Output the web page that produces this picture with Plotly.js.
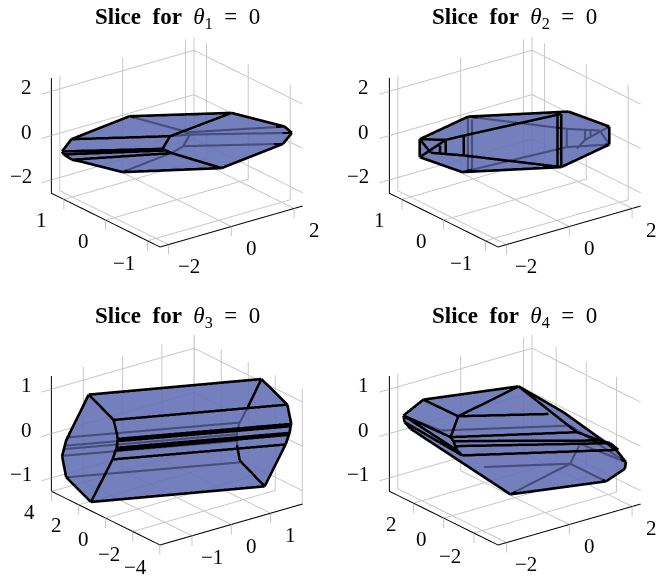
<!DOCTYPE html>
<html>
<head>
<meta charset="utf-8">
<script src="https://cdn.plot.ly/plotly-3.0.1.min.js"></script>
<style>body{margin:0;background:#fff}</style>
</head>
<body>
<div id="plot" style="width:657px;height:577px"></div>
<script>
// Slice for theta_1 = 0
let p1X = [-2.650,-2.634,-2.498,-2.392,-1.090,0.981,1.971,2.082,1.838,0.462,-1.553,-2.340,-0.389,-0.616,-0.454,-0.573,0.443,0.587,0.386,0.601,0.150,0.177,0.112];
let p1Y = [0.756,0.728,0.632,0.727,0.316,-0.565,-1.091,-1.182,-1.152,-0.717,0.134,0.552,-0.127,-0.115,-0.214,-0.145,0.222,0.131,0.140,0.142,0.201,0.299,0.212];
let p1Z = [-0.052,-0.168,-0.373,0.423,1.309,1.438,0.911,0.667,0.243,-0.694,-0.848,-0.437,0.539,0.051,-0.116,-0.013,0.129,-0.025,-0.475,0.065,-0.706,-0.089,-0.744];
let p1Front = [[0,1],[1,2],[2,11],[11,10],[10,9],[9,8],[8,7],[7,6],[6,5],[5,4],[4,3],[3,0],[3,12],[12,5],[12,13],[13,14],[14,9],[0,13],[1,15],[2,14]];
let p1Back = [[4,16],[16,19],[19,6],[17,7],[21,17],[17,18],[18,22],[18,8],[10,20],[16,17]];

// Slice for theta_2 = 0
let p2X = [-2.185,-1.078,0.969,1.704,1.601,0.501,-1.520,-2.288,-2.042,0.808,0.725,0.433,-1.275,-1.390,-1.668,-1.748,-1.813,-1.857,-0.527,-0.830,-0.447,-0.734,1.402,1.296,1.763,1.705,1.869,1.835,2.060,1.487];
let p2Y = [0.636,0.308,-0.551,-0.974,-1.052,-0.727,0.120,0.558,0.481,-0.496,-0.471,-0.691,0.264,0.178,0.406,0.346,0.431,0.398,0.732,0.504,0.688,0.473,-0.185,-0.264,-0.349,-0.393,-0.405,-0.431,-0.484,-0.360];
let p2Z = [0.423,1.296,1.489,0.911,0.218,-0.656,-0.848,-0.270,-0.103,1.399,1.335,-0.617,0.564,-0.206,0.397,-0.142,0.179,-0.116,0.617,-1.412,0.566,-1.348,0.193,-0.513,0.155,-0.231,0.103,-0.128,0.129,-0.577];
let p2Front = [[0,1],[1,2],[2,3],[3,4],[4,5],[5,6],[6,7],[7,0],[7,14],[14,12],[12,9],[8,13],[13,5],[9,5],[10,11],[12,13],[14,15],[16,17],[0,14],[0,8]];
let p2Back = [[18,19],[20,21],[1,22],[22,28],[22,23],[24,25],[26,27],[6,23],[23,4],[29,25],[25,3],[28,4]];

// Slice for theta_3 = 0
let p3X = [-1.438,1.414,1.713,1.688,1.666,1.599,1.501,0.971,-1.897,-2.182,-2.150,-2.013,-1.154,-1.165,-1.178,-1.188,-1.235,-1.263,-1.353,1.619,1.072,0.689,0.716,1.317,1.235,1.220,1.189,1.132,-1.547,-1.624,-1.649,-1.686,-1.732];
let p3Y = [2.355,-2.132,-3.181,-3.548,-3.562,-3.633,-3.672,-3.666,0.849,1.861,2.250,2.352,1.337,1.060,0.975,0.943,0.881,0.872,0.833,-3.624,-2.142,-2.640,-2.367,-0.814,-0.854,-0.899,-0.988,-1.351,3.709,3.660,3.633,3.553,3.172];
let p3Z = [1.033,1.335,0.841,0.468,0.423,0.257,0.070,-0.739,-1.041,-0.559,-0.154,0.147,0.545,0.276,0.179,0.135,0.006,-0.045,-0.219,0.295,0.802,-0.238,0.051,0.180,0.020,-0.045,-0.173,-0.590,-0.109,-0.269,-0.334,-0.462,-0.879];
let p3Front = [[0,1],[1,2],[2,3],[3,4],[4,19],[19,5],[5,6],[6,7],[7,8],[8,9],[9,10],[10,11],[11,0],[0,12],[12,13],[13,14],[14,15],[15,16],[16,17],[17,18],[18,8],[12,2],[14,3],[15,4],[16,19],[17,5],[18,6],[1,20],[7,21],[21,22]];
let p3Back = [[28,23],[29,24],[30,25],[31,26],[32,27],[20,23],[23,24],[24,25],[25,26],[26,22]];

// Slice for theta_4 = 0
let p4X = [-2.387,-1.893,0.101,0.853,1.701,1.821,1.763,1.309,-0.691,-2.317,-2.399,-1.289,-1.563,0.543,1.005,-1.533,1.425,-1.515,1.610,-1.435,1.738,-1.507,1.255,1.571,1.476,-1.159,-0.502];
let p4Y = [2.420,2.127,-0.033,-1.435,-3.187,-3.554,-3.609,-3.300,-1.129,2.082,2.308,1.079,1.013,-1.091,-1.998,0.900,-2.663,0.783,-2.938,0.510,-3.220,0.691,-1.038,-1.041,-0.578,2.513,1.023];
let p4Z = [0.629,0.937,1.194,0.693,-0.045,-0.270,-0.398,-0.642,-0.893,0.372,0.501,0.616,0.212,0.661,0.308,0.135,0.147,0.038,0.096,-0.142,-0.032,-0.045,-0.616,-0.231,0.122,0.026,-0.680];
let p4Front = [[0,1],[1,2],[2,3],[3,4],[4,5],[5,6],[6,7],[7,8],[8,9],[9,10],[10,0],[1,11],[2,11],[11,12],[11,13],[12,14],[15,16],[17,18],[19,20],[12,15],[15,21],[21,19],[2,14],[14,16],[16,18],[18,20],[0,12],[0,21],[10,19]];
let p4Back = [[25,24],[26,22],[8,22],[22,23],[22,7],[23,5],[0,25],[24,5]];

// axis limits and ticks of each panel
let xMax = [2.27, 2.27, 1.815, 2.27];
let yMax = [1.3, 1.3, 4.025, 3.6];
let zMax = [2.6, 2.6, 1.3, 1.3];
let xTicks = [[-2,0,2], [-2,0,2], [-1,0,1], [-2,0,2]];
let yTicks = [[-1,0,1], [-1,0,1], [-4,-2,0,2,4], [-2,0,2]];
let zTicks = [[-2,0,2], [-2,0,2], [-1,0,1], [-1,0,1]];
let titles = ['1', '2', '3', '4'];

// where each panel's box centre sits on the page, in pixels
let centers = [[177,141.5], [514.7,141.5], [177,439.5], [514.7,439.5]];

let panels = [
    {x: p1X, y: p1Y, z: p1Z, front: p1Front, back: p1Back},
    {x: p2X, y: p2Y, z: p2Z, front: p2Front, back: p2Back},
    {x: p3X, y: p3Y, z: p3Z, front: p3Front, back: p3Back},
    {x: p4X, y: p4Y, z: p4Z, front: p4Front, back: p4Back}
];

const W = 657, H = 577, half = 137;
const pad = 1.25;      // hidden plotly range is wider than the drawn box
const boxScale = 1.636;   // ortho scale only follows the aspect ratio, not the eye distance
const gridColor = 'rgb(200,200,200)';
const viewDir = [-0.561, -0.736, 0.377];
const eyeDist = 4;
const font = 'Liberation Serif';

function label(v) {
    return v < 0 ? '\u2212' + Math.abs(v) : String(v);
}

// turn index pairs into one line with gaps
function segments(p, edges) {
    let out = {x: [], y: [], z: []};
    edges.forEach(e => {
        ['x','y','z'].forEach(k => out[k].push(p[k][e[0]], p[k][e[1]], null));
    });
    return out;
}

function addLine(out, pts) {
    pts.forEach(q => { out.x.push(q[0]); out.y.push(q[1]); out.z.push(q[2]); });
    out.x.push(null); out.y.push(null); out.z.push(null);
}

let data = [];
let layout = {
    width: W, height: H,
    margin: {l: 0, r: 0, t: 0, b: 0},
    paper_bgcolor: 'white',
    showlegend: false,
    annotations: []
};

panels.forEach((p, i) => {
    let sc = i === 0 ? 'scene' : 'scene' + (i + 1);
    let xm = xMax[i], ym = yMax[i], zm = zMax[i];
    let xExt = 0.07 * 2 * xm, zExt = 0.086 * 2 * zm;

    // grid on the two back walls and the floor, with the tick stubs
    let grid = {x: [], y: [], z: []};
    zTicks[i].forEach(t => addLine(grid, [[-xm - xExt, ym, t], [xm, ym, t], [xm, -ym, t]]));
    xTicks[i].forEach(t => addLine(grid, [[t, ym, zm], [t, ym, -zm], [t, -ym, -zm], [t, -ym, -zm - zExt]]));
    yTicks[i].forEach(t => addLine(grid, [[xm, t, zm], [xm, t, -zm], [-xm, t, -zm], [-xm, t, -zm - zExt]]));
    addLine(grid, [[xm, ym, zm], [xm, ym, -zm]]);
    data.push(Object.assign(grid, {type: 'scatter3d', mode: 'lines', scene: sc, hoverinfo: 'skip',
        line: {color: gridColor, width: 2}}));

    // black axis lines
    let axes = {x: [], y: [], z: []};
    addLine(axes, [[xm, -ym, -zm], [-xm, -ym, -zm], [-xm, ym, -zm], [-xm, ym, zm]]);
    data.push(Object.assign(axes, {type: 'scatter3d', mode: 'lines', scene: sc, hoverinfo: 'skip',
        line: {color: 'black', width: 2}}));

    // hull is pushed a little away from the viewer so front edges stay on top
    let dx = -viewDir[0] * 3 / 180 * 2 * xm;
    let dy = -viewDir[1] * 3 / 180 * 2 * ym;
    let dz = -viewDir[2] * 3 / 125 * 2 * zm;
    data.push({
        type: 'mesh3d', scene: sc, alphahull: 0, hoverinfo: 'skip',
        x: p.x.map(v => v + dx), y: p.y.map(v => v + dy), z: p.z.map(v => v + dz),
        color: 'rgb(101,113,181)', opacity: 0.69, flatshading: true,
        lighting: {ambient: 1, diffuse: 0, specular: 0, fresnel: 0, roughness: 1}
    });

    data.push(Object.assign(segments(p, p.back), {type: 'scatter3d', mode: 'lines', scene: sc, hoverinfo: 'skip',
        line: {color: 'black', width: 4.5}}));
    data.push(Object.assign(segments(p, p.front), {type: 'scatter3d', mode: 'lines', scene: sc, hoverinfo: 'skip',
        line: {color: 'black', width: 5.5}}));

    // tick labels sit in the scene so they follow its projection
    let notes = [];
    let tickFont = {family: font, size: 21, color: 'black'};
    xTicks[i].forEach(t => notes.push({x: t, y: -ym, z: -zm, text: label(t), showarrow: false,
        xanchor: 'center', yanchor: 'middle', xshift: 20, yshift: -22, font: tickFont}));
    yTicks[i].forEach(t => notes.push({x: -xm, y: t, z: -zm, text: label(t), showarrow: false,
        xanchor: 'center', yanchor: 'middle', xshift: t < 0 ? -24 : -22, yshift: t < 0 ? -23 : -21, font: tickFont}));
    zTicks[i].forEach(t => notes.push({x: -xm, y: ym, z: t, text: label(t), showarrow: false,
        xanchor: 'right', yanchor: 'middle', xshift: -17.7, yshift: 3.5, font: tickFont}));

    let cx = centers[i][0], cy = centers[i][1];
    let axis = m => ({visible: false, autorange: false, range: [-m * pad, m * pad]});
    layout[sc] = {
        domain: {x: [(cx - half) / W, (cx + half) / W], y: [1 - (cy + half) / H, 1 - (cy - half) / H]},
        xaxis: axis(xm), yaxis: axis(ym), zaxis: axis(zm),
        aspectmode: 'manual',
        aspectratio: {x: boxScale, y: boxScale, z: 0.694 * boxScale},
        bgcolor: 'rgba(0,0,0,0)',
        camera: {
            eye: {x: viewDir[0] * eyeDist, y: viewDir[1] * eyeDist, z: viewDir[2] * eyeDist},
            up: {x: 0, y: 0, z: 1},
            center: {x: 0, y: 0, z: 0},
            projection: {type: 'orthographic'}
        },
        annotations: notes
    };

    layout.annotations.push({
        xref: 'paper', yref: 'paper', x: cx / W, y: 1 - (i < 2 ? 18 : 316.7) / H,
        xanchor: 'center', yanchor: 'middle', showarrow: false,
        text: '<b>Slice\u00a0 for</b>\u00a0 <i>\u03b8</i><sub>' + titles[i] + '</sub>\u00a0 =\u00a0 0',
        font: {family: font, size: 23, color: 'black'}
    });
});

Plotly.newPlot('plot', data, layout, {displayModeBar: false});
</script>
</body>
</html>
